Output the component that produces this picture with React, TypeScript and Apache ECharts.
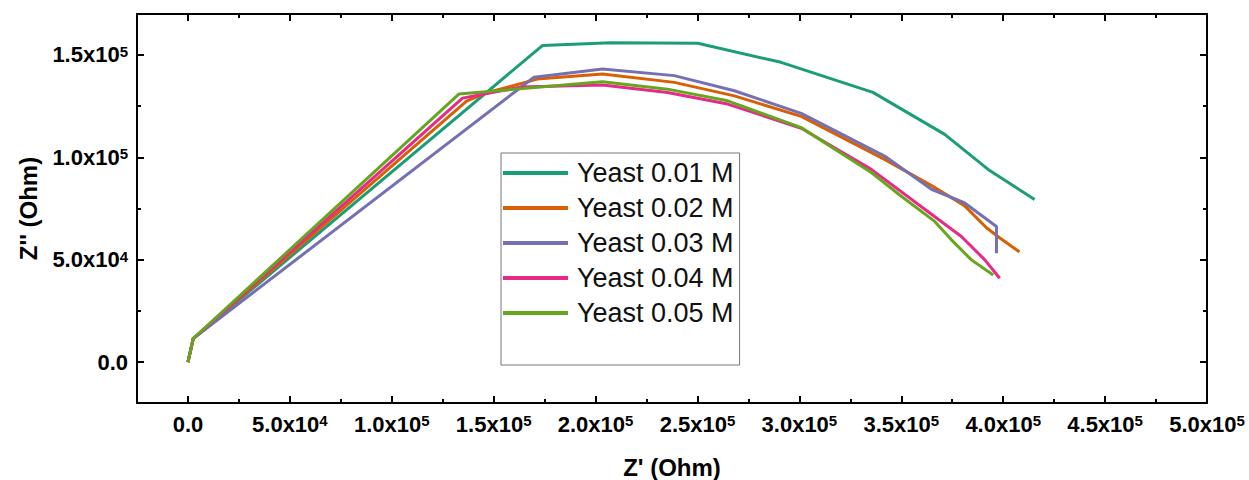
import React, { useEffect, useRef } from "react";
import * as echarts from "echarts";

// Nyquist data (Z', Z'') in Ohm for each yeast concentration
const seriesNames = ["Yeast 0.01 M", "Yeast 0.02 M", "Yeast 0.03 M", "Yeast 0.04 M", "Yeast 0.05 M"];
const seriesColors = ["#1b9e77", "#d95f02", "#7570b3", "#e7298a", "#66a61e"];

const yeast001: [number, number][] = [
  [0, 0], [2600, 11500], [173900, 154600], [207500, 155900], [250100, 155700],
  [291000, 146400], [336100, 131700], [371300, 111200], [392600, 94100], [415400, 79400],
];
const yeast002: [number, number][] = [
  [0, 0], [2600, 11500], [136700, 127400], [146000, 131400], [171400, 138200],
  [203400, 140700], [238600, 136600], [268100, 130000], [300900, 120000], [341800, 99000],
  [364800, 86200], [381000, 76400], [391800, 65600], [398200, 60700], [408000, 53800],
];
const yeast003: [number, number][] = [
  [0, 0], [2600, 11500], [169800, 139100], [203400, 143100], [238600, 139900],
  [268100, 132500], [300900, 121500], [341800, 100600], [364800, 84400], [381100, 77700],
  [396700, 66200], [396700, 53200],
];
const yeast004: [number, number][] = [
  [0, 0], [2600, 11500], [134700, 128900], [163200, 134300], [203400, 135300],
  [235300, 131700], [264800, 126000], [300900, 114200], [335300, 94100], [366300, 71100],
  [379500, 61300], [391000, 49900], [398300, 40900],
];
const yeast005: [number, number][] = [
  [0, 0], [2600, 11500], [132900, 130900], [203400, 136900], [235300, 133300],
  [264800, 127600], [300900, 114500], [335300, 92600], [350000, 81000], [366400, 68700],
  [374600, 59700], [384400, 49900], [395100, 42500],
];
const seriesData = [yeast001, yeast002, yeast003, yeast004, yeast005];

const xRange = [-25000, 500000];
const yRange = [-20000, 170000];
const majorStep = 50000;

const FONT = "'Liberation Sans', Arial, Helvetica, sans-serif";

// "1.5x10^5" style tick labels with a superscript exponent
function sciLabel(v: number): string {
  if (Math.abs(v % majorStep) > 1e-6) return "";
  if (v === 0) return "{b|0.0}";
  const e = Math.floor(Math.log10(Math.abs(v)));
  const m = (v / Math.pow(10, e)).toFixed(1);
  return `{b|${m}x10}{s|${e}}`;
}

const labelRich = {
  b: { fontSize: 22, fontWeight: "bold", fontFamily: FONT, color: "#000" },
  s: { fontSize: 15, fontWeight: "bold", fontFamily: FONT, color: "#000", verticalAlign: "top", lineHeight: 15 },
};

function frameAxis(extra: any) {
  return {
    type: "value",
    minInterval: majorStep,
    maxInterval: majorStep,
    axisLine: { show: true, onZero: false, lineStyle: { color: "#000", width: 2 } },
    axisTick: { show: true, inside: true, length: 7, lineStyle: { color: "#000", width: 2 } },
    minorTick: { show: true, splitNumber: 2, length: 4, lineStyle: { color: "#000", width: 2 } },
    splitLine: { show: false },
    minorSplitLine: { show: false },
    ...extra,
  };
}

export default function App() {
  const ref = useRef<HTMLDivElement>(null);

  useEffect(() => {
    if (!ref.current) return;
    const chart = echarts.init(ref.current, undefined, { renderer: "svg" });
    chart.setOption({
      animation: false,
      backgroundColor: "#fff",
      textStyle: { fontFamily: FONT },
      grid: { left: 137, right: 42, top: 14, bottom: 77, containLabel: false, outerBoundsMode: "none" },
      xAxis: [
        frameAxis({
          position: "bottom",
          min: xRange[0],
          max: xRange[1],
          name: "Z' (Ohm)",
          nameLocation: "middle",
          nameGap: 52,
          nameTextStyle: { fontSize: 24, fontWeight: "bold", color: "#000", fontFamily: FONT },
          axisLabel: { show: true, margin: 10, formatter: sciLabel, rich: labelRich },
        }),
        frameAxis({
          position: "top",
          min: xRange[0],
          max: xRange[1],
          axisLabel: { show: false },
        }),
      ],
      yAxis: [
        frameAxis({
          position: "left",
          min: yRange[0],
          max: yRange[1],
          name: "Z'' (Ohm)",
          nameLocation: "middle",
          nameGap: 97,
          nameTextStyle: { fontSize: 24, fontWeight: "bold", color: "#000", fontFamily: FONT },
          axisLabel: { show: true, margin: 9, formatter: sciLabel, rich: labelRich },
        }),
        frameAxis({
          position: "right",
          min: yRange[0],
          max: yRange[1],
          axisLabel: { show: false },
        }),
      ],
      legend: {
        orient: "vertical",
        left: 501,
        top: 153,
        icon: "rect",
        itemWidth: 65,
        itemHeight: 4,
        itemGap: 5,
        padding: [5, 6, 37, 2],
        borderColor: "#777",
        borderWidth: 1,
        backgroundColor: "#fff",
        textStyle: {
          fontSize: 27,
          lineHeight: 30,
          color: "#111",
          fontFamily: FONT,
          padding: [0, 0, 0, 4],
        },
        data: seriesNames,
      },
      series: seriesData.map((d, i) => ({
        name: seriesNames[i],
        type: "line",
        xAxisIndex: 0,
        yAxisIndex: 0,
        data: d,
        symbol: "none",
        showSymbol: false,
        color: seriesColors[i],
        lineStyle: { color: seriesColors[i], width: 3 },
        clip: true,
      })),
    });
    return () => chart.dispose();
  }, []);

  return (
    <div
      ref={ref}
      style={{ position: "fixed", left: 0, top: 0, width: 1249, height: 480, background: "#fff" }}
    />
  );
}
